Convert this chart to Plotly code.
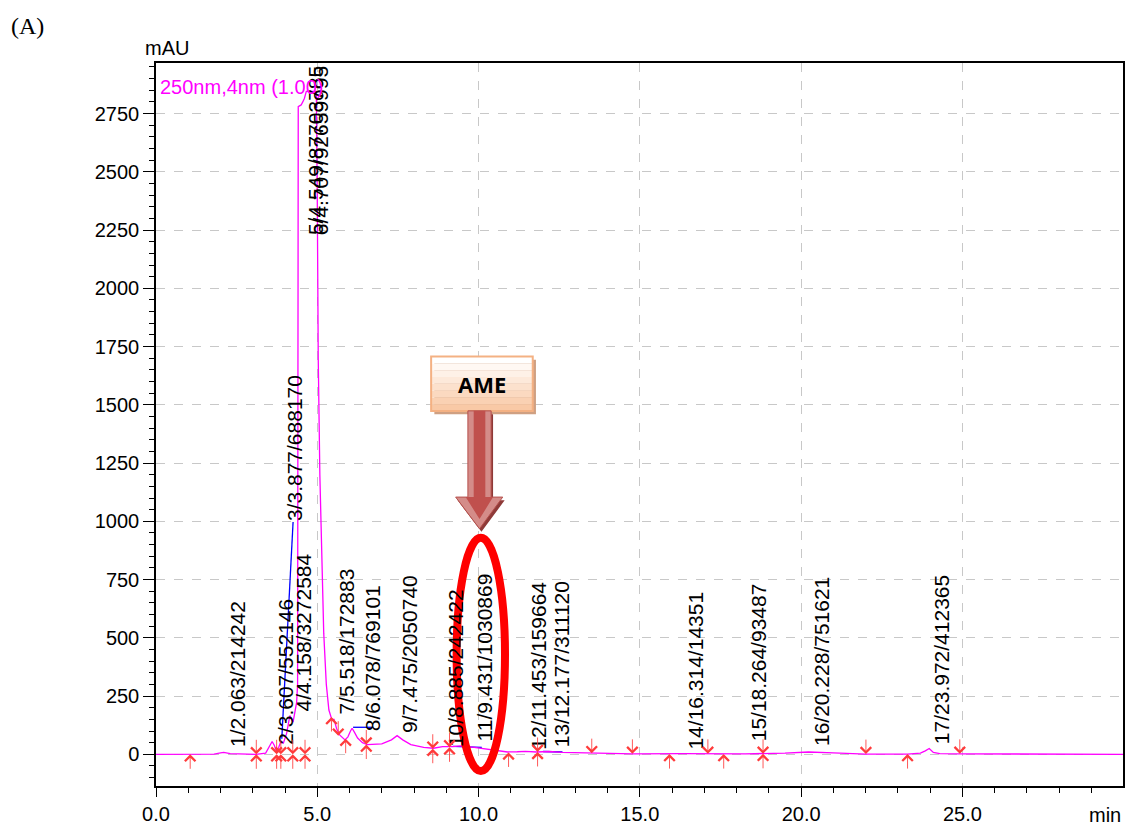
import plotly.graph_objects as go

# chromatogram trace, 250 nm (magenta)
trace_t = [0, 1.0, 1.8, 2.0, 2.1, 2.3, 2.6, 3.1, 3.4, 3.52, 3.6, 3.67, 3.74, 3.8,
           3.87, 3.95, 4.05, 4.15, 4.25, 4.36, 4.39, 4.41, 4.5, 4.55, 4.6, 4.66,
           4.97, 5.0, 5.03, 5.08, 5.13, 5.2, 5.28, 5.36, 5.45, 5.52, 5.6, 5.7,
           5.86, 5.95, 6.03, 6.08, 6.15, 6.25, 6.4, 6.55, 7.0, 7.3, 7.475, 7.65,
           7.9, 8.3, 8.6, 8.885, 9.2, 9.431, 9.7, 10.1, 10.5, 10.9, 11.2, 11.453,
           11.8, 12.177, 12.6, 13.5, 14.8, 16.314, 18.264, 19.5, 20.228, 21.0,
           22.0, 23.3, 23.7, 23.85, 23.972, 24.1, 24.3, 24.9, 26.0, 30.0]
trace_mau = [0, 0, 1, 6, 8, 3, 1, 0, 5, 35, 55, 38, 10, 28,
             55, 48, 90, 166, 138, 223, 300, 2780, 2787, 2800, 2815, 2845,
             2845, 2400, 1700, 1200, 850, 520, 300, 190, 150, 150, 110, 82,
             62, 75, 100, 112, 95, 70, 50, 42, 45, 62, 80, 62,
             42, 30, 26, 33, 33, 36, 33, 26, 16, 10, 11, 13,
             10, 12, 8, 5, 2, 3, 2, 5, 10, 6,
             1, 1, 5, 15, 25, 8, 3, 2, 1, 0]

# integration baseline pieces (blue)
base_t = [3.9, 4.25, None, 6.11, 6.73, None, 9.2, 10.1, None, 12.0, 12.6]
base_mau = [67, 997, None, 116, 116, None, 34, 30, None, 12, 10]

# peak table: rt / area / height where the label starts
peak_rt = [2.063, 3.607, 3.877, 4.158, 4.549, 4.707, 5.518, 6.078, 7.475,
           8.885, 9.431, 11.453, 12.177, 16.314, 18.264, 20.228, 23.972]
peak_area = [214242, 552146, 688170, 3272584, 87703785, 92659995, 172883,
             769101, 2050740, 242422, 1030869, 159664, 311120, 14351, 93487,
             751621, 412365]
peak_height = [25, 38, 997, 180, 2850, 2850, 166, 95, 88,
               25, 52, 17, 25, 17, 52, 31, 38]

# start / end marks of the integration
start_t = [1.06, 5.44, 5.88, 10.93, 15.92, 17.6, 23.3]
start_mau = [0, 160, 67, 8, 1, 1, 1]
end_t = [5.65, 13.51, 14.77, 17.11, 22.01, 24.92]
end_mau = [80, 5, 2, 2, 1, 2]
both_t = [3.11, 3.74, 3.87, 4.24, 4.62, 6.52, 8.58, 9.1, 11.83, 18.82]
both_mau = [0, 0, 0, 0, 0, 42, 24, 30, 10, 2]

MAG = "#FF00FF"
BLUE = "#0000FF"
MARK = "#FF3B3B"
GRID = "#C8C8C8"
FONT = "Liberation Sans, Arial, sans-serif"

fig = go.Figure()
fig.add_trace(go.Scatter(x=base_t, y=base_mau, mode="lines",
                         line=dict(color=BLUE, width=1.3), connectgaps=False,
                         hoverinfo="skip"))
fig.add_trace(go.Scatter(x=trace_t, y=trace_mau, mode="lines",
                         line=dict(color=MAG, width=1.3), name="250nm"))

ann = []

# peak labels, written upwards from the apex
label_top_limit = 2225
xnudge = {1: 15, 8: 20, 11: 24}
for i, (rt, area, h) in enumerate(zip(peak_rt, peak_area, peak_height), start=1):
    ann.append(dict(x=rt, y=min(h, label_top_limit), text=f"{i}/{rt:.3f}/{area}",
                    textangle=-90, xanchor="center", yanchor="bottom",
                    xshift=xnudge.get(i, 13), showarrow=False, borderpad=0,
                    font=dict(size=21, color="black", family=FONT)))


def mark(t, y, up):
    return dict(x=t, y=y, ax=0, ay=16 if up else -16, axref="pixel", ayref="pixel",
                text="", showarrow=True, arrowhead=4, arrowsize=2.4,
                arrowwidth=0.85, arrowcolor=MARK, standoff=0)


for t, y in zip(start_t, start_mau):
    ann.append(mark(t, y, True))
for t, y in zip(end_t, end_mau):
    ann.append(mark(t, y, False))
for t, y in zip(both_t, both_mau):
    ann.append(mark(t, y, True))
    ann.append(mark(t, y, False))

# text around the frame
ann += [
    dict(x=0.002, y=0.985, xref="paper", yref="paper", text="250nm,4nm (1.00)",
         showarrow=False, xanchor="left", yanchor="top",
         font=dict(size=20, color=MAG, family=FONT)),
    dict(x=-0.013, y=1.0, xref="paper", yref="paper", text="mAU", showarrow=False,
         xanchor="left", yanchor="bottom", yshift=2,
         font=dict(size=20, color="black", family=FONT)),
    dict(x=1.0, y=0, xref="paper", yref="paper", text="min", showarrow=False,
         xanchor="right", yanchor="top", yshift=-16,
         font=dict(size=20, color="black", family=FONT)),
    dict(x=-0.152, y=1.051, xref="paper", yref="paper", text="(A)",
         showarrow=False, xanchor="left", yanchor="middle",
         font=dict(size=24, color="black", family="Liberation Serif, serif")),
    dict(x=10.1, y=1590, text="<b>AME</b>", showarrow=False,
         font=dict(size=22, color="black", family="Open Sans, sans-serif")),
]

shapes = []
# callout box with a soft vertical gradient
box_x0, box_x1, box_y0, box_y1 = 8.53, 11.68, 1473, 1707
shapes.append(dict(type="rect", x0=box_x0 + 0.1, x1=box_x1 + 0.1, y0=box_y0 - 14,
                   y1=box_y1 - 14, fillcolor="#CFA082", line=dict(width=0),
                   layer="above"))
steps = ["#F9C9A6", "#FAD1B3", "#FBD9C0", "#FCE1CD", "#FDE9DA", "#FEF1E7", "#FFF8F3", "#FFFFFF"]
hgt = (box_y1 - box_y0) / len(steps)
for k, c in enumerate(steps):
    shapes.append(dict(type="rect", x0=box_x0, x1=box_x1, y0=box_y0 + k * hgt,
                       y1=box_y0 + (k + 1) * hgt, fillcolor=c, line=dict(width=0),
                       layer="above"))
shapes.append(dict(type="rect", x0=box_x0, x1=box_x1, y0=box_y0, y1=box_y1,
                   line=dict(color="#F4B183", width=2), layer="above"))

# down arrow towards the peak
shapes.append(dict(type="path",
                   path="M 9.73,1460 L 10.45,1460 L 10.45,1090 L 10.81,1090 L 10.09,955 "
                        "L 9.35,1090 L 9.73,1090 Z",
                   fillcolor="#8E3A38", line=dict(width=0), layer="above"))
shapes.append(dict(type="path",
                   path="M 9.67,1474 L 10.39,1474 L 10.39,1104 L 10.75,1104 L 10.03,968 "
                        "L 9.29,1104 L 9.67,1104 Z",
                   fillcolor="#D48C89", line=dict(color="#B5504C", width=1), layer="above"))
shapes.append(dict(type="path",
                   path="M 9.85,1474 L 10.21,1474 L 10.21,1104 L 10.45,1104 L 10.03,1010 "
                        "L 9.6,1104 L 9.85,1104 Z",
                   fillcolor="#C0504D", line=dict(width=0), layer="above"))
# red ellipse around the AME peak
shapes.append(dict(type="circle", x0=9.32, x1=10.82, y0=-72, y1=929,
                   line=dict(color="#FF0000", width=8), layer="above"))

axis_common = dict(
    showline=True, linecolor="black", linewidth=1.5, mirror=True,
    ticks="outside", tickcolor="black", tickwidth=1.3,
    showgrid=True, gridcolor=GRID, griddash="dash", gridwidth=1.3,
    zeroline=False, tickfont=dict(size=20, color="black", family=FONT),
)

fig.update_layout(
    width=1128, height=828,
    paper_bgcolor="white", plot_bgcolor="white",
    margin=dict(l=156, r=3, t=63, b=37),
    showlegend=False,
    font=dict(family=FONT, color="black"),
    xaxis=dict(**axis_common, range=[0, 29.98], dtick=5, tickformat=".1f", ticklen=9,
               minor=dict(dtick=1, ticks="outside", ticklen=5, tickcolor="black",
                          showgrid=False)),
    yaxis=dict(**axis_common, range=[-136, 2967], dtick=250, ticklen=11,
               minor=dict(dtick=50, ticks="outside", ticklen=5, tickcolor="black",
                          showgrid=False)),
    annotations=ann,
    shapes=shapes,
)

# page body margin would push the figure off by 8px
fig.write_html("out.html", config={"displayModeBar": False},
               post_script="document.body.style.margin='0px';")
